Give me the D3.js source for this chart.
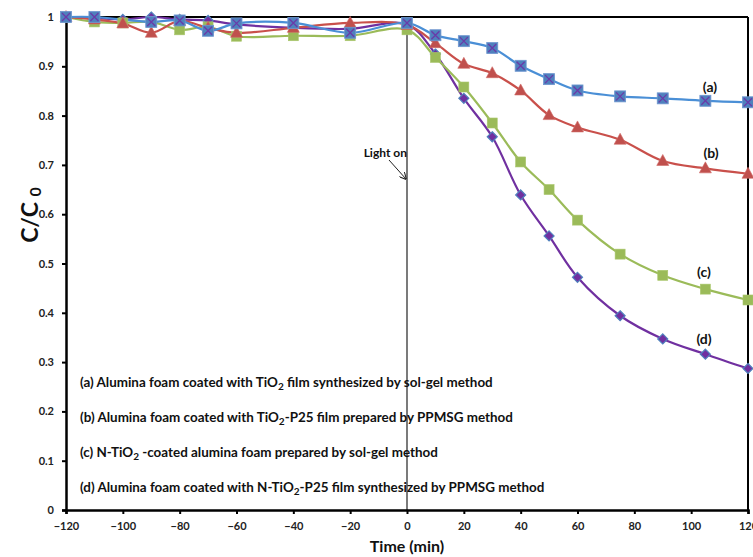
<!DOCTYPE html>
<html>
<head>
<meta charset="utf-8">
<script src="https://cdn.jsdelivr.net/npm/d3@7"></script>
<style>
  html, body { margin: 0; padding: 0; background: #fff; }
  svg { display: block; }
  text { font-family: Lato, "Open Sans", sans-serif; }
</style>
</head>
<body>
<svg id="chart" width="753" height="557"></svg>
<script>
// ---------- data ----------
const times = [-120, -110, -100, -90, -80, -70, -60, -40, -20, 0, 10, 20, 30, 40, 50, 60, 75, 90, 105, 120];
const seriesA = [1.0, 1.0, null, 0.99, 0.993, 0.972, 0.987, 0.988, 0.968, 0.988, 0.963, 0.951, 0.937, 0.901, 0.874, 0.851, 0.839, 0.835, 0.830, 0.827];
const seriesB = [1.0, 0.995, 0.987, 0.968, 0.992, 0.978, 0.968, 0.978, 0.988, 0.984, 0.947, 0.905, 0.886, 0.851, 0.801, 0.776, 0.751, 0.708, 0.693, 0.682];
const seriesC = [1.0, 0.99, 0.988, 0.99, 0.974, 0.98, 0.961, 0.962, 0.962, 0.974, 0.918, 0.858, 0.785, 0.706, 0.650, 0.588, 0.519, 0.476, 0.448, 0.426];
const seriesD = [1.0, 0.998, 0.995, 1.0, 0.995, 0.993, 0.985, 0.978, 0.976, 0.985, 0.925, 0.835, 0.757, 0.639, 0.556, 0.472, 0.394, 0.347, 0.316, 0.287];
const seriesLabels = ["(a)", "(b)", "(c)", "(d)"];
const xTicks = [-120, -100, -80, -60, -40, -20, 0, 20, 40, 60, 80, 100, 120];
const yTicks = [0, 0.1, 0.2, 0.3, 0.4, 0.5, 0.6, 0.7, 0.8, 0.9, 1];
const legendLines = [
  [["(a) Alumina foam coated with TiO"], ["2", 1], [" film synthesized by sol-gel method"]],
  [["(b) Alumina foam coated with TiO"], ["2", 1], ["-P25 film prepared by PPMSG method"]],
  [["(c) N-TiO"], ["2", 1], [" -coated alumina foam prepared by sol-gel method"]],
  [["(d) Alumina foam coated with N-TiO"], ["2", 1], ["-P25 film synthesized by PPMSG method"]]
];
const xTitle = "Time (min)";
const lightLabel = "Light on";

// ---------- layout ----------
const svg = d3.select("#chart");
const L = 66, R = 748, T = 17, B = 510;
const x = d3.scaleLinear().domain([-120, 120]).range([L, R]);
const y = d3.scaleLinear().domain([0, 1]).range([B, T]);

const styles = [
  { data: seriesA, line: "#4a8fd6", mark: "sqx", label: [710, 92] },
  { data: seriesB, line: "#c9504b", mark: "tri", label: [711, 158] },
  { data: seriesC, line: "#9bbb59", mark: "sq", label: [704, 277] },
  { data: seriesD, line: "#7030a0", mark: "dia", label: [704, 344] }
];

// frame (top & right)
svg.append("line").attr("x1", L).attr("x2", R).attr("y1", T).attr("y2", T)
  .attr("stroke", "#000").attr("stroke-width", 2);
svg.append("line").attr("x1", R).attr("x2", R).attr("y1", T).attr("y2", B)
  .attr("stroke", "#000").attr("stroke-width", 2);

// light on vertical line
svg.append("line").attr("x1", x(0)).attr("x2", x(0)).attr("y1", T).attr("y2", B)
  .attr("stroke", "#333").attr("stroke-width", 1.3);

// axes
const xAxis = svg.append("g").attr("transform", `translate(0,${B})`)
  .call(d3.axisBottom(x).tickValues(xTicks).tickSize(4).tickPadding(6).tickFormat(d3.format("d")));
const yAxis = svg.append("g").attr("transform", `translate(${L},0)`)
  .call(d3.axisLeft(y).tickValues(yTicks).tickSize(4).tickPadding(8).tickFormat(d => d === 0 ? "0" : d === 1 ? "1" : d3.format(".1f")(d)));
[xAxis, yAxis].forEach(g => {
  g.select(".domain").attr("stroke", "#000").attr("stroke-width", 2.5);
  g.selectAll(".tick line").attr("stroke", "#000").attr("stroke-width", 2);
  g.selectAll(".tick text").attr("fill", "#222").style("font-size", "11px").style("font-weight", "bold");
});
xAxis.selectAll(".tick text").attr("dy", "0.9em");

// lines
const line = d3.line().x(d => x(d.t)).y(d => y(d.v)).curve(d3.curveCatmullRom.alpha(0.5));
const ordered = [3, 2, 1, 0];
ordered.forEach(i => {
  const s = styles[i];
  const pts = times.map((t, k) => ({ t, v: s.data[k] })).filter(d => d.v !== null);
  svg.append("path").datum(pts).attr("d", line).attr("fill", "none")
    .attr("stroke", s.line).attr("stroke-width", 2.2);
});
ordered.forEach(i => {
  const s = styles[i];
  const pts = times.map((t, k) => ({ t, v: s.data[k] })).filter(d => d.v !== null);
  const g = svg.append("g");
  pts.forEach(d => {
    const cx = x(d.t), cy = y(d.v);
    if (s.mark === "sqx") {
      g.append("rect").attr("x", cx - 5.5).attr("y", cy - 5.5).attr("width", 11).attr("height", 11)
        .attr("fill", "#4f81bd").attr("stroke", "#6f96d0").attr("stroke-width", 0.8);
      g.append("path").attr("d", `M${cx-4},${cy-4}L${cx+4},${cy+4}M${cx-4},${cy+4}L${cx+4},${cy-4}`)
        .attr("stroke", "#6a3aa8").attr("stroke-width", 1.3);
    } else if (s.mark === "tri") {
      g.append("path").attr("d", `M${cx},${cy-6.5}L${cx+6},${cy+4.5}L${cx-6},${cy+4.5}Z`)
        .attr("fill", "#c0504d").attr("stroke", "#d06a66").attr("stroke-width", 0.6);
    } else if (s.mark === "sq") {
      g.append("rect").attr("x", cx - 5).attr("y", cy - 5).attr("width", 10).attr("height", 10)
        .attr("fill", "#9bbb59").attr("stroke", "#a9c66c").attr("stroke-width", 0.6);
    } else {
      g.append("path").attr("d", `M${cx},${cy-5}L${cx+5},${cy}L${cx},${cy+5}L${cx-5},${cy}Z`)
        .attr("fill", "#7030a0").attr("stroke", "#4f81bd").attr("stroke-width", 1.2);
    }
  });
  svg.append("text").attr("x", s.label[0]).attr("y", s.label[1]).attr("text-anchor", "middle")
    .style("font-size", "14px").style("font-weight", "bold").attr("fill", "#111")
    .text(seriesLabels[i]);
});

// light on annotation
svg.append("text").attr("x", 407).attr("y", 157).attr("text-anchor", "end")
  .style("font-size", "12px").style("font-weight", "bold").attr("fill", "#111").text(lightLabel);
svg.append("defs").append("marker").attr("id", "arr").attr("viewBox", "0 0 10 10")
  .attr("refX", 9).attr("refY", 5).attr("markerWidth", 7).attr("markerHeight", 7).attr("orient", "auto")
  .append("path").attr("d", "M0,0L10,5L0,10").attr("fill", "none").attr("stroke", "#222").attr("stroke-width", 1.5);
svg.append("line").attr("x1", 389).attr("y1", 160).attr("x2", 406).attr("y2", 179)
  .attr("stroke", "#222").attr("stroke-width", 1).attr("marker-end", "url(#arr)");

// legend text lines
const legendY = [387, 422, 457, 492];
const targetW = 413;
let fs = 12.5;
legendLines.forEach((segs, i) => {
  const t = svg.append("text").attr("x", 80).attr("y", legendY[i])
    .style("font-weight", "bold").attr("fill", "#111").style("font-size", fs + "px");
  segs.forEach(([txt, sub]) => {
    if (sub) {
      t.append("tspan").attr("dy", 3).style("font-size", (fs * 0.75) + "px").text(txt);
    } else {
      const sp = t.append("tspan").text(txt);
      if (t.selectAll("tspan").size() > 1) sp.attr("dy", -3);
    }
  });
  if (i === 0) {
    const w = t.node().getComputedTextLength();
    fs = fs * targetW / w;
    t.style("font-size", fs + "px");
    t.selectAll("tspan").filter((d, k) => k === 1).style("font-size", (fs * 0.75) + "px");
  }
});

// axis titles
svg.append("text").attr("x", x(0)).attr("y", 552).attr("text-anchor", "middle")
  .style("font-size", "16px").style("font-weight", "bold").attr("fill", "#111").text(xTitle);
const yt = svg.append("text").attr("transform", "translate(38,215) rotate(-90)").attr("text-anchor", "middle")
  .style("font-size", "23px").style("font-weight", "bold").attr("fill", "#111");
yt.append("tspan").text("C/C ");
yt.append("tspan").attr("dy", 3).style("font-size", "16px").text("0");
</script>
</body>
</html>
